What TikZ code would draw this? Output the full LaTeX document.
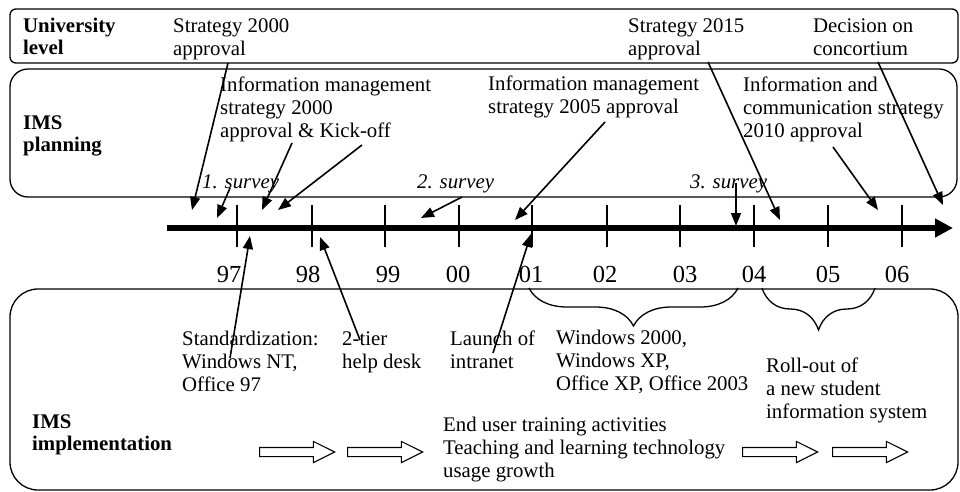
\documentclass[tikz,border=0pt]{standalone}
\usepackage{fontspec}
\setmainfont{Liberation Serif}
\usetikzlibrary{arrows.meta,positioning,calc,shapes.arrows,decorations.pathreplacing}
\tikzset{
  ims/lane/.style={
    draw=black,
    line width=1.3pt,
    fill=none
  },
  ims/label/.style={
    inner sep=0pt,
    anchor=base west,
    align=left,
    font=\fontsize{20.8}{23}\selectfont
  },
  ims/head/.style={ims/label, font=\fontsize{20.8}{22}\selectfont\bfseries},
  ims/survey/.style={ims/label, font=\fontsize{20.8}{23}\selectfont\itshape},
  ims/year/.style={inner sep=0pt, anchor=base, font=\fontsize{24.5}{26}\selectfont},
  ims/pointer/.style={-{Triangle[length=13pt,width=10pt]}, line width=1.6pt},
  ims/tick/.style={line width=1.3pt},
  ims/brace/.style={decorate, decoration={brace, mirror, amplitude=#1}, line width=1.3pt},
  ims/hollow/.style={
    single arrow,
    draw=black,
    line width=1.1pt,
    fill=white,
    minimum height=75pt,
    inner xsep=0pt,
    inner ysep=4pt,
    single arrow head extend=6pt,
    single arrow tip angle=53,
    single arrow head indent=0pt
  }
}

\begin{document}
\begin{tikzpicture}[x=1pt,y=-1pt]
  \useasboundingbox (0,0) rectangle (960,491);

  % the three lanes
  \draw[ims/lane, rounded corners=6pt] (10,9) rectangle (958,63);
  \draw[ims/lane, rounded corners=18pt] (10,69) rectangle (957,197);
  \draw[ims/lane, rounded corners=28pt] (10,289) rectangle (958,490);

  % labels sit on the baseline of their last line
  \node[ims/head] (univ) at (23,54) {University\\level};
  \node[ims/head] (plan) at (23,151) {IMS\\planning};
  \node[ims/head] (impl) at (32,450) {IMS\\implementation};

  % time axis with yearly ticks
  \coordinate (axis-start) at (167,228);
  \coordinate (axis-end) at (953,228);
  \draw[line width=6pt, -{Triangle[length=18pt,width=18pt]}] (axis-start) -- (axis-end);
  \foreach \x/\yr/\lx in {237/97/229, 312/98/308, 385/99/388, 459/00/458, 532/01/531,
                          607/02/605, 680/03/685, 754/04/754, 828/05/828, 902/06/897} {
    \draw[ims/tick] (\x,205) -- (\x,247);
    \node[ims/year] (yr\yr) at (\lx,282) {\yr};
  }

  % university level and planning events
  \node[ims/label] (s2000) at (173,55) {Strategy 2000\\approval};
  \node[ims/label] (s2015) at (628,55) {Strategy 2015\\approval};
  \node[ims/label] (concort) at (813,55) {Decision on\\concortium};
  \node[ims/label] (ims2000) at (220,137) {Information management\\strategy 2000\\approval \& Kick-off};
  \node[ims/label] (ims2005) at (488,113) {Information management\\strategy 2005 approval};
  \node[ims/label] (ict2010) at (743,137) {Information and\\communication strategy\\2010 approval};
  \node[ims/survey] (sv1) at (202,188) {1. survey};
  \node[ims/survey] (sv2) at (417,188) {2. survey};
  \node[ims/survey] (sv3) at (690,188) {3. survey};

  % implementation events
  \node[ims/label] (std) at (182,391) {Standardization:\\Windows NT,\\Office 97};
  \node[ims/label] (helpdesk) at (342,368) {2-tier\\help desk};
  \node[ims/label] (intranet) at (450,368) {Launch of\\intranet};
  \node[ims/label] (win) at (556,390) {Windows 2000,\\Windows XP,\\Office XP, Office 2003};
  \node[ims/label] (sis) at (766,418) {Roll-out of\\a new student\\information system};
  \node[ims/label] (training) at (443,477) {End user training activities\\Teaching and learning technology\\usage growth};

  % pointer ends
  \coordinate (s2000-from) at (228,63);     \coordinate (s2000-to) at (192,210);
  \coordinate (sv1-from) at (230,188);      \coordinate (sv1-to) at (217,218);
  \coordinate (ims2000-from) at (292,143);  \coordinate (ims2000-to) at (262,210);
  \coordinate (kickoff-from) at (362,145);  \coordinate (kickoff-to) at (278,210);
  \coordinate (sv2-from) at (462,197);      \coordinate (sv2-to) at (421,218);
  \coordinate (ims2005-from) at (605,122);  \coordinate (ims2005-to) at (515,220);
  \coordinate (sv3-from) at (736,183);      \coordinate (sv3-to) at (736,226);
  \coordinate (s2015-from) at (708,62);     \coordinate (s2015-to) at (780,220);
  \coordinate (ict2010-from) at (833,147);  \coordinate (ict2010-to) at (878,210);
  \coordinate (concort-from) at (878,62);   \coordinate (concort-to) at (943,205);
  \coordinate (std-from) at (230,358);      \coordinate (std-to) at (250,236);
  \coordinate (helpdesk-from) at (360,340); \coordinate (helpdesk-to) at (320,237);
  \coordinate (intranet-from) at (493,353); \coordinate (intranet-to) at (531,234);

  \foreach \p in {s2000, sv1, ims2000, kickoff, sv2, ims2005, sv3, s2015,
                  ict2010, concort, std, helpdesk, intranet}
    \draw[ims/pointer] (\p-from) -- (\p-to);

  % rollout periods
  \coordinate (xp-start) at (529,288);  \coordinate (xp-end) at (738,288);
  \coordinate (sis-start) at (762,288); \coordinate (sis-end) at (875,288);
  \draw[ims/brace=38pt] (xp-start) -- (xp-end);
  \draw[ims/brace=42pt] (sis-start) -- (sis-end);

  % ongoing activities
  \node[ims/hollow] (flow1) at (292.5,452) {};
  \node[ims/hollow] (flow2) at (380.5,452) {};
  \node[ims/hollow] (flow3) at (775.5,452) {};
  \node[ims/hollow] (flow4) at (865.5,452) {};
\end{tikzpicture}
\end{document}
